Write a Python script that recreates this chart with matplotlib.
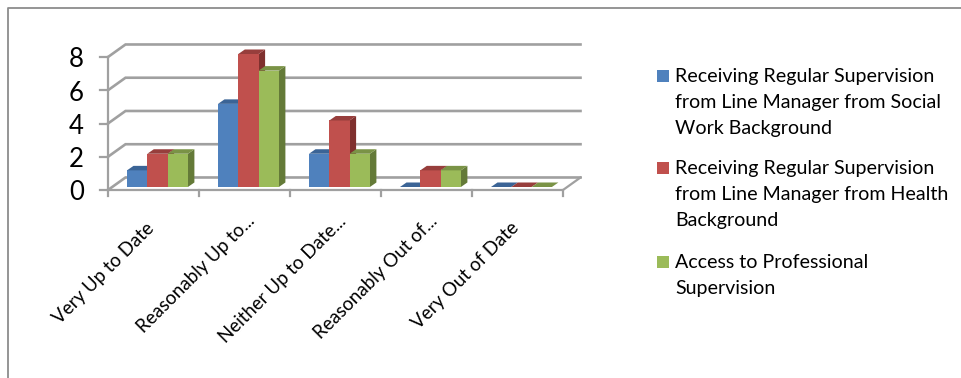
import matplotlib
matplotlib.use('Agg')
import matplotlib.pyplot as plt
from matplotlib.patches import Polygon

plt.rcParams['font.family'] = ['Lato', 'DejaVu Sans']

categorias = ['Very Up to Date', 'Reasonably Up to...', 'Neither Up to Date...',
              'Reasonably Out of...', 'Very Out of Date']
social_work = [1, 5, 2, 0, 0]
health = [2, 8, 4, 1, 0]
profissional = [2, 7, 2, 1, 0]

series = [social_work, health, profissional]
nomes = ['Receiving Regular Supervision\nfrom Line Manager from Social\nWork Background',
         'Receiving Regular Supervision\nfrom Line Manager from Health\nBackground',
         'Access to Professional\nSupervision']
# frente, topo, lateral
cores = [('#4F81BD', '#3B6496', '#2F5078'),
         ('#C0504D', '#973E3C', '#7F302E'),
         ('#9BBB59', '#7A9346', '#647A38')]
ticks_y = [0, 2, 4, 6, 8]

W, H = 961, 378
fig = plt.figure(figsize=(W / 100, H / 100), dpi=100)

# eixo com 0-5 categorias e 0-8 casos; o resto do 3D sai fora do eixo com clip_on=False
ax = fig.add_axes([108 / W, 1 - 190 / H, (563 - 108) / W, (190 - 57) / H])
ax.set_xlim(0, 5)
ax.set_ylim(0, 8)
ax.axis('off')

CINZA = '#A0A0A0'
dx_fundo = 17.5 / 91
dy_fundo = 12.5 / 16.6

for v in ticks_y:
    ax.plot([0, dx_fundo, 5 + dx_fundo], [v, v + dy_fundo, v + dy_fundo],
            color=CINZA, lw=1.9, clip_on=False, solid_joinstyle='miter')
ax.plot([0, 0], [0, 8], color=CINZA, lw=1.6, clip_on=False)
ax.plot([0, 5, 5 + dx_fundo], [0, 0, dy_fundo], color=CINZA, lw=1.6, clip_on=False)
for i in range(6):
    ax.plot([i, i], [0, -0.38], color=CINZA, lw=1.6, clip_on=False)
for v in ticks_y:
    ax.plot([-0.09, 0], [v, v], color=CINZA, lw=1.6, clip_on=False)
    ax.text(-0.265, v - 0.17, str(v), ha='right', va='center', fontsize=18.5, color='black')

larg = 20.3 / 91
prof_x = 6.5 / 91
prof_y = 4.5 / 16.6
base = 3 / 16.6
inicio = 19 / 91

for i in range(len(categorias)):
    for s, valores in enumerate(series):
        v = valores[i]
        x0 = i + inicio + s * larg
        x1 = x0 + larg
        y0 = base
        y1 = base + v
        frente, topo, lado = cores[s]
        if v > 0:
            ax.add_patch(Polygon([(x1, y0), (x1 + prof_x, y0 + prof_y),
                                  (x1 + prof_x, y1 + prof_y), (x1, y1)],
                                 fc=lado, ec='none', clip_on=False, zorder=3 + s))
            ax.add_patch(Polygon([(x0, y0), (x1, y0), (x1, y1), (x0, y1)],
                                 fc=frente, ec='none', clip_on=False, zorder=3.5 + s))
        ax.add_patch(Polygon([(x0, y1), (x1, y1), (x1 + prof_x, y1 + prof_y),
                              (x0 + prof_x, y1 + prof_y)],
                             fc=topo, ec='none', clip_on=False, zorder=3.5 + s))

for i, nome in enumerate(categorias):
    # rótulos cortados com reticências ficam um pouco mais perto do eixo
    desloc = (5.6, -20.5) if nome.endswith('...') else (-1.3, -25.5)
    ax.annotate(nome, xy=(i + 0.5, 0), xytext=desloc, textcoords='offset points',
                rotation=45, rotation_mode='anchor', ha='right', va='center',
                fontsize=13.5, color='black', annotation_clip=False)

# legenda montada a mão, cada bloco com o quadrado e o texto
pos_legenda = [76, 168, 262]
for s, nome in enumerate(nomes):
    y = pos_legenda[s]
    fig.patches.append(plt.Rectangle((657 / W, 1 - (y + 6) / H), 12 / W, 12 / H,
                                     transform=fig.transFigure, fc=cores[s][0], ec='none'))
    fig.text(675 / W, 1 - (y - 7.7) / H, nome, ha='left', va='top', fontsize=14.1,
             linespacing=1.62, color='black')

# moldura cortada na borda da imagem
fig.add_artist(plt.Line2D([7.5 / W, 7.5 / W, 1], [0, 1 - 8 / H, 1 - 8 / H],
                          color='#8C8C8C', lw=1.3))

plt.savefig('out.png', dpi=100)
plt.close()
